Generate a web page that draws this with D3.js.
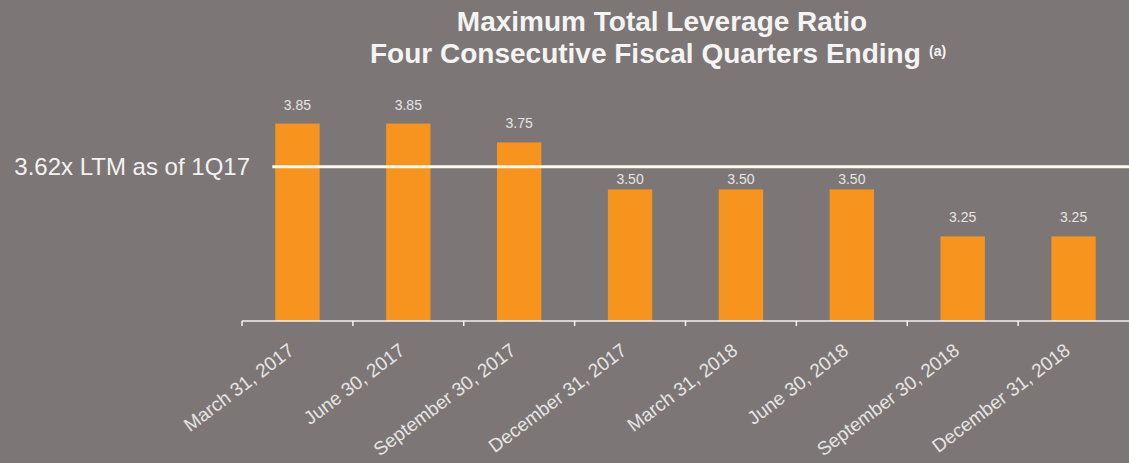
<!DOCTYPE html>
<html>
<head>
<meta charset="utf-8">
<script src="https://cdn.jsdelivr.net/npm/d3@7"></script>
<style>
    html, body { margin: 0; padding: 0; background: #7c7776; }
    text { font-family: "Liberation Sans", Arial, sans-serif; }
</style>
</head>
<body>
<div id="chart"></div>
<script>
const quarters = ["March 31, 2017", "June 30, 2017", "September 30, 2017", "December 31, 2017",
    "March 31, 2018", "June 30, 2018", "September 30, 2018", "December 31, 2018"];
const maxLeverage = [3.85, 3.85, 3.75, 3.50, 3.50, 3.50, 3.25, 3.25];
const valueLabels = ["3.85", "3.85", "3.75", "3.50", "3.50", "3.50", "3.25", "3.25"];
const currentLtm = 3.62;
const ltmLabel = "3.62x LTM as of 1Q17";

const dataset = quarters.map((q, i) => ({quarter: q, value: maxLeverage[i], label: valueLabels[i]}));

var width = 1129, height = 463;
var left = 242, bottom = 321;

var svg = d3.select("#chart")
    .append("svg")
    .attr("width", width)
    .attr("height", height);

svg.append("rect")
    .attr("width", width)
    .attr("height", height)
    .attr("fill", "#7c7776");

// title (two lines, second one carries the footnote mark)
svg.append("text")
    .attr("x", 662)
    .attr("y", 31)
    .attr("text-anchor", "middle")
    .attr("font-size", "28px")
    .attr("font-weight", "bold")
    .attr("fill", "#f4f4f4")
    .text("Maximum Total Leverage Ratio");

svg.append("text")
    .attr("x", 370)
    .attr("y", 63)
    .attr("font-size", "28px")
    .attr("font-weight", "bold")
    .attr("fill", "#f4f4f4")
    .text("Four Consecutive Fiscal Quarters Ending");
svg.append("text")
    .attr("x", 929)
    .attr("y", 56)
    .attr("font-size", "14px")
    .attr("font-weight", "bold")
    .attr("fill", "#f4f4f4")
    .text("(a)");

const xScale = d3.scaleBand()
    .range([left, width])
    .domain(quarters)
    .paddingInner(0.6)
    .paddingOuter(0.3);

const tickScale = d3.scaleBand()
    .range([left, width])
    .domain(quarters)
    .padding(0);

const yScale = d3.scaleLinear()
    .range([bottom, 95.4])
    .domain([2.8, 4.0]);

const yRef = yScale(currentLtm);

// bars
svg.selectAll(".bar")
    .data(dataset)
    .enter()
    .append("rect")
    .attr("class", "bar")
    .attr("x", d => xScale(d.quarter))
    .attr("y", d => yScale(d.value))
    .attr("width", xScale.bandwidth())
    .attr("height", d => bottom - yScale(d.value))
    .style("fill", "#f7941d");

// value labels (pushed under the LTM line when they would sit on it)
svg.selectAll(".value")
    .data(dataset)
    .enter()
    .append("text")
    .attr("class", "value")
    .attr("x", d => xScale(d.quarter) + xScale.bandwidth() / 2)
    .attr("y", d => {
        let y = yScale(d.value) - 14;
        if (y > yRef - 4 && y - 11 < yRef + 4) y = yRef + 17;
        return y;
    })
    .attr("text-anchor", "middle")
    .attr("font-size", "14px")
    .attr("fill", "#e4e4e4")
    .text(d => d.label);

// axis line + ticks between bars
svg.append("line")
    .attr("x1", left).attr("x2", width)
    .attr("y1", bottom).attr("y2", bottom)
    .style("stroke", "#f2f2f2")
    .style("stroke-width", 1.5);

svg.selectAll(".tick")
    .data(quarters)
    .enter()
    .append("line")
    .attr("class", "tick")
    .attr("x1", d => tickScale(d)).attr("x2", d => tickScale(d))
    .attr("y1", bottom).attr("y2", bottom + 5)
    .style("stroke", "#f2f2f2")
    .style("stroke-width", 1.5);

// category labels
svg.selectAll(".xlabel")
    .data(dataset)
    .enter()
    .append("text")
    .attr("class", "xlabel")
    .attr("text-anchor", "end")
    .attr("font-size", "19px")
    .attr("fill", "#e4e4e4")
    .attr("transform", d => `translate(${xScale(d.quarter) + xScale.bandwidth() / 2 - 2}, ${bottom + 32}) rotate(-37)`)
    .text(d => d.quarter);

// reference line
svg.append("line")
    .attr("x1", xScale(quarters[0]) - 3)
    .attr("x2", width)
    .attr("y1", yRef).attr("y2", yRef)
    .style("stroke", "#fbf8ee")
    .style("stroke-width", 3);

svg.append("text")
    .attr("x", 250)
    .attr("y", yRef)
    .attr("dy", "0.35em")
    .attr("text-anchor", "end")
    .attr("font-size", "24px")
    .attr("fill", "#f2f2f2")
    .text(ltmLabel);
</script>
</body>
</html>
